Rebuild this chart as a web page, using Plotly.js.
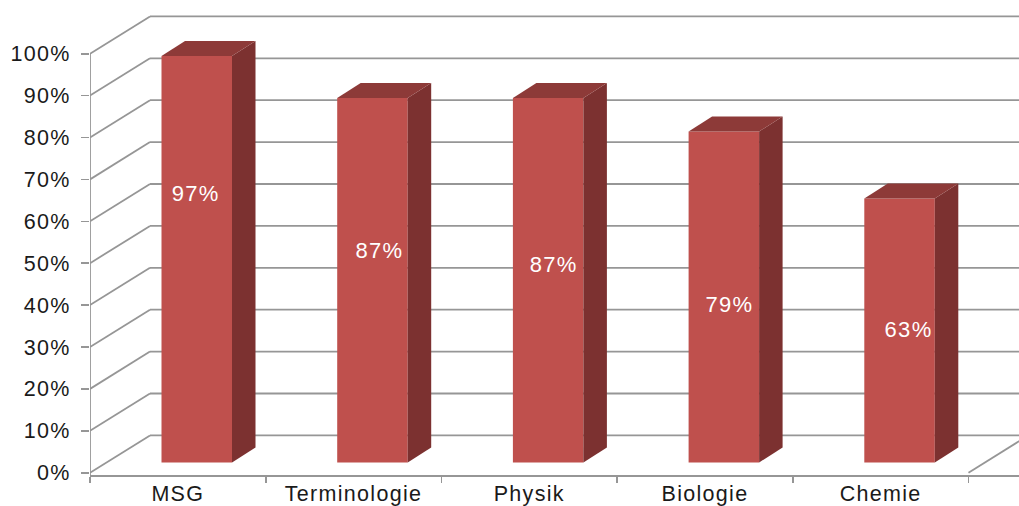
<!DOCTYPE html>
<html>
<head>
<meta charset="utf-8">
<script src="https://cdn.plot.ly/plotly-3.0.1.min.js"></script>
<style>
  html, body { margin: 0; padding: 0; background: #fff; overflow: hidden; }
  #chart { width: 1019px; height: 506px; }
  #chart svg text { letter-spacing: 1.3px; }
</style>
</head>
<body>
<div id="chart"></div>
<script>
// Share of correct answers per subject
const categories = ["MSG", "Terminologie", "Physik", "Biologie", "Chemie"];
const values = [97, 87, 87, 79, 63];
// Where each percentage label sits inside its column: height, and sideways shift in pixels
const labelLevels = [66.1, 52.6, 49.2, 39.6, 33.6];
const labelShifts = [-1, 7, 5.5, 5.5, 9];
const yTicks = [0, 10, 20, 30, 40, 50, 60, 70, 80, 90, 100];

// Plot geometry
const width = 1019, height = 506;
const plotLeft = 90, plotBottom = 475;
const pxPerCategory = 175.7, pxPerPercent = 4.19;
const zeroPx = 472.7;
const xMin = -0.5, xMax = xMin + (width - plotLeft) / pxPerCategory;
const yMin = (zeroPx - plotBottom) / pxPerPercent, yMax = zeroPx / pxPerPercent;
const toX = px => px / pxPerCategory, toY = px => px / pxPerPercent;

// Oblique projection offsets: the whole chart box, and a single column
const wallDx = toX(60), wallDy = toY(37.3);
const colDx = toX(23.5), colDy = toY(15);
const colWidth = toX(70.5), colStart = toX(71.5) - 0.5, colBase = toY(10.2);

const gridColor = "#969696", frontColor = "#BF504D", sideColor = "#7C3130", topColor = "#8D3A38";
const font = { family: "Liberation Sans, Arial, sans-serif", size: 21.5, color: "#1a1a1a" };

const shapes = [];
const line = { color: gridColor, width: 1.8 };
// Side wall diagonals and back wall lines, one pair per percentage tick
yTicks.forEach(t => {
  shapes.push({ type: "line", layer: "below", xref: "x", yref: "y", x0: xMin, y0: t, x1: xMin + wallDx, y1: t + wallDy, line });
  shapes.push({ type: "line", layer: "below", xref: "x", yref: "y", x0: xMin + wallDx, y0: t + wallDy, x1: xMax, y1: t + wallDy, line });
});
// Vertical axis line and the right edge of the floor
shapes.push({ type: "line", layer: "above", xref: "x", yref: "y", x0: xMin, y0: yMin, x1: xMin, y1: 100, line });
shapes.push({ type: "line", layer: "below", xref: "x", yref: "y", x0: 4.5, y0: 0, x1: 4.5 + wallDx, y1: wallDy, line });

const traces = [];
const lefts = categories.map((_, i) => i + colStart);

// Column fronts
traces.push({
  type: "bar",
  x: lefts.map(l => l + colWidth / 2),
  y: values,
  base: values.map(() => colBase),
  width: colWidth,
  marker: { color: frontColor, line: { width: 0 } },
  hoverinfo: "skip",
  showlegend: false
});

// Column side and top faces
values.forEach((v, i) => {
  const l = lefts[i], r = l + colWidth, top = colBase + v;
  traces.push({
    type: "scatter", mode: "lines", fill: "toself", fillcolor: sideColor,
    line: { width: 0, color: sideColor }, hoverinfo: "skip", showlegend: false,
    x: [r, r + colDx, r + colDx, r, r],
    y: [colBase, colBase + colDy, top + colDy, top, colBase]
  });
  traces.push({
    type: "scatter", mode: "lines", fill: "toself", fillcolor: topColor,
    line: { width: 0, color: topColor }, hoverinfo: "skip", showlegend: false,
    x: [l, l + colDx, r + colDx, r, l],
    y: [top, top + colDy, top + colDy, top, top]
  });
});

// Percentage labels
traces.push({
  type: "scatter", mode: "text",
  x: lefts.map((l, i) => l + colWidth / 2 + toX(labelShifts[i])),
  y: labelLevels,
  text: values.map(v => v + "%"),
  textposition: "middle center",
  textfont: { family: font.family, size: 22, color: "#ffffff" },
  hoverinfo: "skip", showlegend: false
});

const layout = {
  width, height,
  margin: { l: plotLeft, r: 0, t: 0, b: height - plotBottom, pad: 0 },
  paper_bgcolor: "#ffffff", plot_bgcolor: "#ffffff",
  showlegend: false,
  font,
  shapes,
  xaxis: {
    range: [xMin, xMax], fixedrange: true, automargin: false,
    tickmode: "array", tickvals: categories.map((_, i) => i), ticktext: categories,
    ticks: "", showgrid: false, zeroline: false,
    showline: true, linecolor: gridColor, linewidth: 2,
    tickfont: font, ticklabelstandoff: -2,
    minor: { tickmode: "array", tickvals: [-0.5, 0.5, 1.5, 2.5, 3.5, 4.5], ticks: "outside", ticklen: 6, tickwidth: 1.6, tickcolor: gridColor, showgrid: false }
  },
  yaxis: {
    range: [yMin, yMax], fixedrange: true, automargin: false,
    tickmode: "array", tickvals: yTicks, ticktext: yTicks.map(t => t + "%"),
    ticks: "outside", ticklen: 8, tickwidth: 1.6, tickcolor: gridColor,
    showgrid: false, zeroline: false, showline: false,
    tickfont: font, ticklabelstandoff: 6
  }
};

Plotly.newPlot("chart", traces, layout, { staticPlot: true, displayModeBar: false });
</script>
</body>
</html>
